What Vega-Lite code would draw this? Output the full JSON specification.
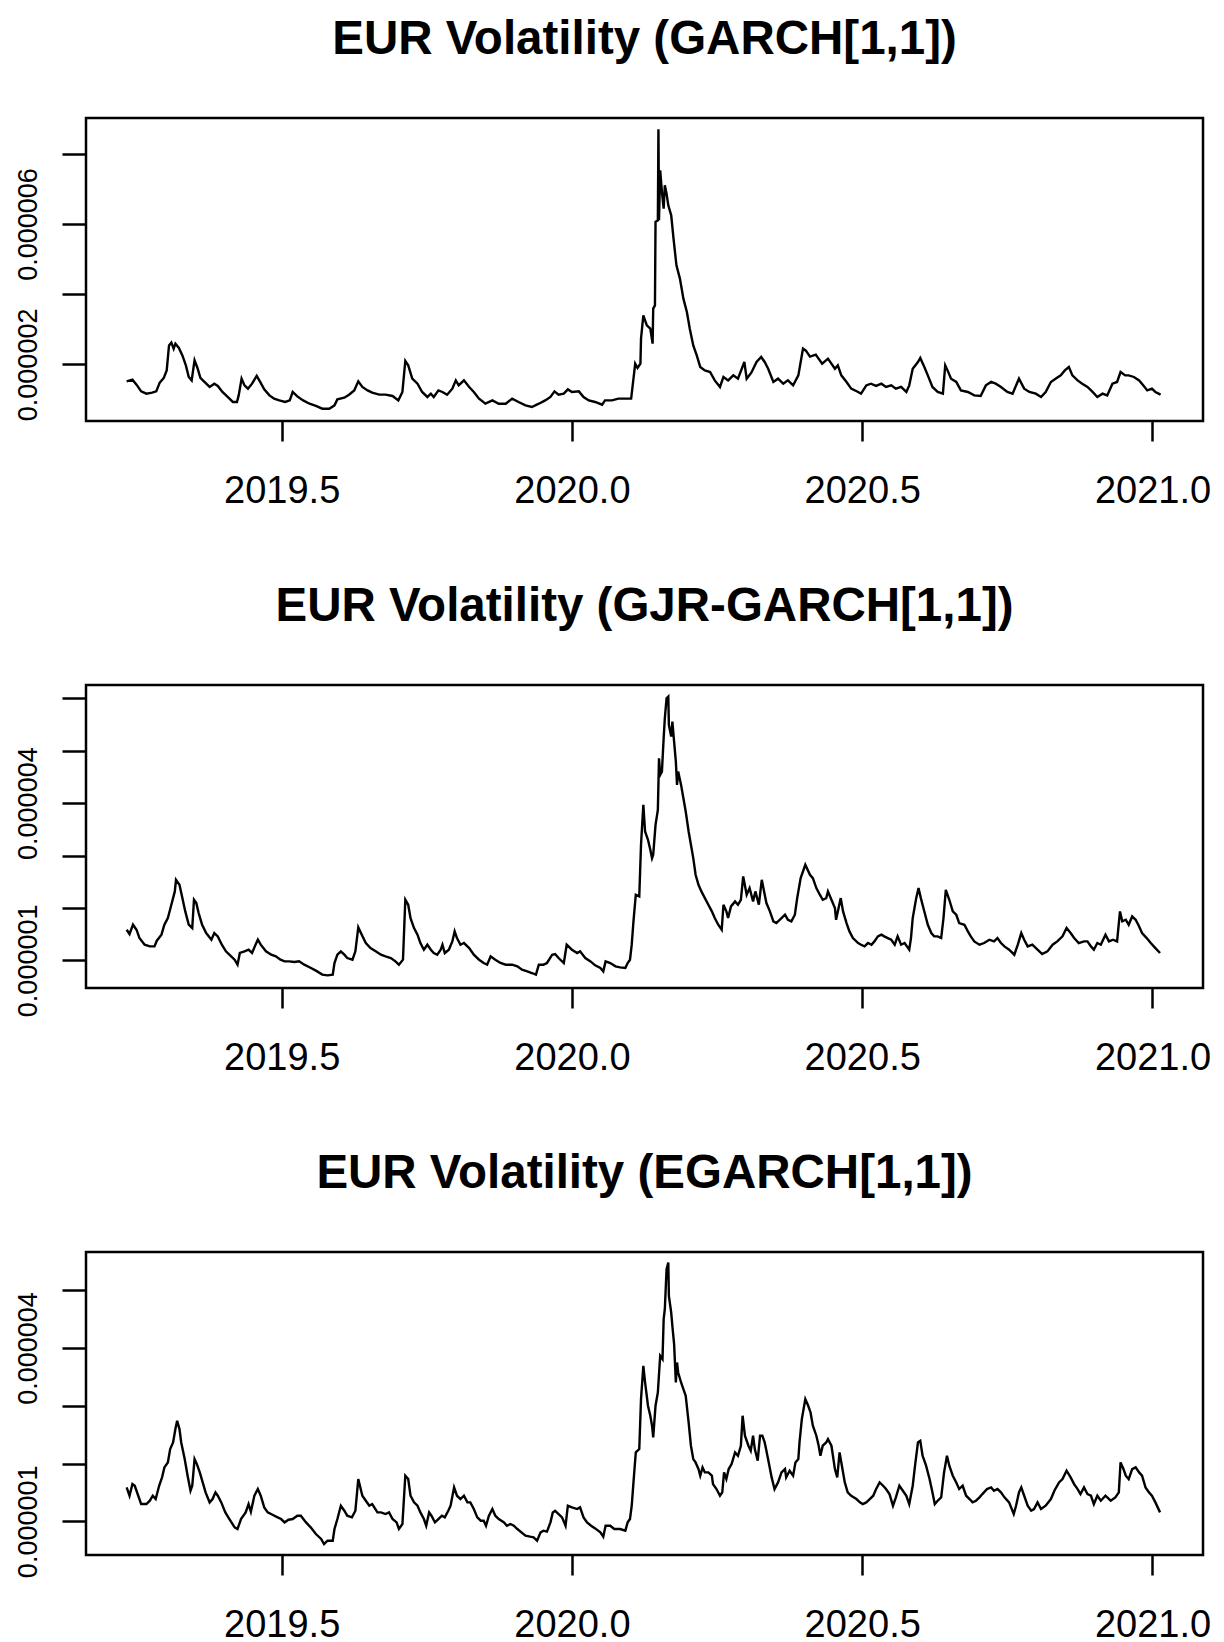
{
"$schema": "https://vega.github.io/schema/vega-lite/v6.json",
"background": "white",
"padding": {"left": 12, "top": 14, "right": 10, "bottom": 10},
"bounds": "flush",
"spacing": 264,
"config": {
  "view": {"stroke": "black", "strokeWidth": 2.5},
  "font": "Liberation Sans",
  "title": {"fontSize": 47.5, "font": "Liberation Sans", "fontWeight": "bold", "color": "black", "anchor": "middle", "frame": "group", "offset": 55},
  "axis": {"grid": false, "domain": false, "tickColor": "black", "tickWidth": 2.5, "labelColor": "black", "labelFont": "Liberation Sans", "title": null}
},
"datasets": {
"garch": [
{"t":2019.233,"v":1.516e-6},{"t":2019.243,"v":1.564e-6},{"t":2019.250,"v":1.422e-6},{"t":2019.258,"v":1.231e-6},{"t":2019.267,"v":1.165e-6},{"t":2019.277,"v":1.194e-6},{"t":2019.284,"v":1.231e-6},{"t":2019.290,"v":1.479e-6},{"t":2019.297,"v":1.613e-6},{"t":2019.302,"v":1.829e-6},{"t":2019.306,"v":2.541e-6},{"t":2019.310,"v":2.618e-6},{"t":2019.314,"v":2.447e-6},{"t":2019.317,"v":2.590e-6},{"t":2019.323,"v":2.467e-6},{"t":2019.329,"v":2.256e-6},{"t":2019.335,"v":1.972e-6},{"t":2019.340,"v":1.641e-6},{"t":2019.345,"v":1.544e-6},{"t":2019.350,"v":2.114e-6},{"t":2019.355,"v":1.897e-6},{"t":2019.360,"v":1.613e-6},{"t":2019.367,"v":1.499e-6},{"t":2019.376,"v":1.356e-6},{"t":2019.384,"v":1.450e-6},{"t":2019.390,"v":1.385e-6},{"t":2019.398,"v":1.214e-6},{"t":2019.407,"v":1.071e-6},{"t":2019.416,"v":0.929e-6},{"t":2019.423,"v":0.929e-6},{"t":2019.426,"v":1.117e-6},{"t":2019.431,"v":1.593e-6},{"t":2019.436,"v":1.402e-6},{"t":2019.442,"v":1.308e-6},{"t":2019.449,"v":1.450e-6},{"t":2019.457,"v":1.670e-6},{"t":2019.463,"v":1.499e-6},{"t":2019.470,"v":1.288e-6},{"t":2019.479,"v":1.117e-6},{"t":2019.487,"v":1.023e-6},{"t":2019.496,"v":0.974e-6},{"t":2019.506,"v":0.929e-6},{"t":2019.514,"v":0.974e-6},{"t":2019.519,"v":1.214e-6},{"t":2019.527,"v":1.088e-6},{"t":2019.537,"v":0.974e-6},{"t":2019.548,"v":0.880e-6},{"t":2019.559,"v":0.815e-6},{"t":2019.570,"v":0.738e-6},{"t":2019.582,"v":0.738e-6},{"t":2019.591,"v":0.832e-6},{"t":2019.596,"v":1.003e-6},{"t":2019.608,"v":1.051e-6},{"t":2019.616,"v":1.137e-6},{"t":2019.625,"v":1.259e-6},{"t":2019.632,"v":1.516e-6},{"t":2019.639,"v":1.356e-6},{"t":2019.648,"v":1.259e-6},{"t":2019.656,"v":1.194e-6},{"t":2019.668,"v":1.137e-6},{"t":2019.679,"v":1.137e-6},{"t":2019.691,"v":1.100e-6},{"t":2019.701,"v":0.974e-6},{"t":2019.708,"v":1.214e-6},{"t":2019.713,"v":2.097e-6},{"t":2019.718,"v":1.972e-6},{"t":2019.725,"v":1.593e-6},{"t":2019.734,"v":1.450e-6},{"t":2019.742,"v":1.214e-6},{"t":2019.751,"v":1.071e-6},{"t":2019.757,"v":1.165e-6},{"t":2019.762,"v":1.071e-6},{"t":2019.770,"v":1.259e-6},{"t":2019.777,"v":1.214e-6},{"t":2019.785,"v":1.137e-6},{"t":2019.794,"v":1.308e-6},{"t":2019.800,"v":1.544e-6},{"t":2019.805,"v":1.402e-6},{"t":2019.814,"v":1.544e-6},{"t":2019.823,"v":1.356e-6},{"t":2019.831,"v":1.214e-6},{"t":2019.840,"v":1.023e-6},{"t":2019.851,"v":0.880e-6},{"t":2019.863,"v":0.974e-6},{"t":2019.874,"v":0.880e-6},{"t":2019.886,"v":0.880e-6},{"t":2019.897,"v":1.023e-6},{"t":2019.908,"v":0.929e-6},{"t":2019.920,"v":0.832e-6},{"t":2019.931,"v":0.786e-6},{"t":2019.943,"v":0.880e-6},{"t":2019.954,"v":0.974e-6},{"t":2019.963,"v":1.071e-6},{"t":2019.970,"v":1.231e-6},{"t":2019.977,"v":1.137e-6},{"t":2019.986,"v":1.165e-6},{"t":2019.993,"v":1.288e-6},{"t":2020.000,"v":1.214e-6},{"t":2020.012,"v":1.231e-6},{"t":2020.020,"v":1.071e-6},{"t":2020.029,"v":0.974e-6},{"t":2020.040,"v":0.929e-6},{"t":2020.052,"v":0.852e-6},{"t":2020.057,"v":0.974e-6},{"t":2020.069,"v":0.974e-6},{"t":2020.080,"v":1.023e-6},{"t":2020.092,"v":1.023e-6},{"t":2020.102,"v":1.023e-6},{"t":2020.104,"v":1.308e-6},{"t":2020.109,"v":2.020e-6},{"t":2020.113,"v":1.897e-6},{"t":2020.118,"v":2.020e-6},{"t":2020.119,"v":2.732e-6},{"t":2020.123,"v":3.396e-6},{"t":2020.129,"v":3.111e-6},{"t":2020.135,"v":3.017e-6},{"t":2020.139,"v":2.590e-6},{"t":2020.140,"v":3.587e-6},{"t":2020.143,"v":3.681e-6},{"t":2020.144,"v":6.057e-6},{"t":2020.148,"v":6.103e-6},{"t":2020.149,"v":8.695e-6},{"t":2020.150,"v":6.103e-6},{"t":2020.152,"v":7.527e-6},{"t":2020.155,"v":6.912e-6},{"t":2020.158,"v":6.436e-6},{"t":2020.160,"v":7.100e-6},{"t":2020.163,"v":6.863e-6},{"t":2020.166,"v":6.530e-6},{"t":2020.171,"v":6.245e-6},{"t":2020.175,"v":5.581e-6},{"t":2020.180,"v":4.821e-6},{"t":2020.186,"v":4.442e-6},{"t":2020.192,"v":3.872e-6},{"t":2020.198,"v":3.493e-6},{"t":2020.203,"v":3.017e-6},{"t":2020.209,"v":2.541e-6},{"t":2020.215,"v":2.256e-6},{"t":2020.221,"v":1.926e-6},{"t":2020.229,"v":1.829e-6},{"t":2020.238,"v":1.783e-6},{"t":2020.246,"v":1.544e-6},{"t":2020.255,"v":1.356e-6},{"t":2020.261,"v":1.641e-6},{"t":2020.269,"v":1.544e-6},{"t":2020.278,"v":1.687e-6},{"t":2020.286,"v":1.593e-6},{"t":2020.297,"v":2.068e-6},{"t":2020.301,"v":1.593e-6},{"t":2020.309,"v":1.764e-6},{"t":2020.318,"v":2.068e-6},{"t":2020.326,"v":2.211e-6},{"t":2020.332,"v":2.068e-6},{"t":2020.338,"v":1.877e-6},{"t":2020.347,"v":1.499e-6},{"t":2020.355,"v":1.593e-6},{"t":2020.364,"v":1.450e-6},{"t":2020.372,"v":1.544e-6},{"t":2020.381,"v":1.402e-6},{"t":2020.390,"v":1.687e-6},{"t":2020.398,"v":2.447e-6},{"t":2020.403,"v":2.390e-6},{"t":2020.410,"v":2.219e-6},{"t":2020.420,"v":2.276e-6},{"t":2020.431,"v":2.020e-6},{"t":2020.441,"v":2.162e-6},{"t":2020.453,"v":1.877e-6},{"t":2020.458,"v":1.972e-6},{"t":2020.464,"v":1.687e-6},{"t":2020.473,"v":1.499e-6},{"t":2020.481,"v":1.308e-6},{"t":2020.493,"v":1.214e-6},{"t":2020.498,"v":1.165e-6},{"t":2020.507,"v":1.402e-6},{"t":2020.515,"v":1.450e-6},{"t":2020.524,"v":1.385e-6},{"t":2020.533,"v":1.450e-6},{"t":2020.541,"v":1.356e-6},{"t":2020.550,"v":1.402e-6},{"t":2020.558,"v":1.308e-6},{"t":2020.567,"v":1.356e-6},{"t":2020.576,"v":1.214e-6},{"t":2020.581,"v":1.402e-6},{"t":2020.587,"v":1.877e-6},{"t":2020.596,"v":2.068e-6},{"t":2020.600,"v":2.182e-6},{"t":2020.607,"v":1.926e-6},{"t":2020.613,"v":1.687e-6},{"t":2020.621,"v":1.356e-6},{"t":2020.630,"v":1.214e-6},{"t":2020.639,"v":1.165e-6},{"t":2020.643,"v":1.972e-6},{"t":2020.647,"v":1.829e-6},{"t":2020.653,"v":1.593e-6},{"t":2020.662,"v":1.499e-6},{"t":2020.670,"v":1.259e-6},{"t":2020.682,"v":1.214e-6},{"t":2020.693,"v":1.117e-6},{"t":2020.704,"v":1.100e-6},{"t":2020.713,"v":1.402e-6},{"t":2020.722,"v":1.499e-6},{"t":2020.730,"v":1.450e-6},{"t":2020.739,"v":1.356e-6},{"t":2020.750,"v":1.214e-6},{"t":2020.759,"v":1.165e-6},{"t":2020.770,"v":1.593e-6},{"t":2020.779,"v":1.308e-6},{"t":2020.788,"v":1.214e-6},{"t":2020.799,"v":1.165e-6},{"t":2020.808,"v":1.071e-6},{"t":2020.816,"v":1.214e-6},{"t":2020.825,"v":1.499e-6},{"t":2020.833,"v":1.593e-6},{"t":2020.842,"v":1.687e-6},{"t":2020.849,"v":1.829e-6},{"t":2020.856,"v":1.926e-6},{"t":2020.862,"v":1.687e-6},{"t":2020.871,"v":1.544e-6},{"t":2020.879,"v":1.450e-6},{"t":2020.888,"v":1.356e-6},{"t":2020.896,"v":1.231e-6},{"t":2020.905,"v":1.071e-6},{"t":2020.914,"v":1.165e-6},{"t":2020.922,"v":1.117e-6},{"t":2020.931,"v":1.450e-6},{"t":2020.939,"v":1.499e-6},{"t":2020.945,"v":1.783e-6},{"t":2020.953,"v":1.687e-6},{"t":2020.959,"v":1.687e-6},{"t":2020.968,"v":1.641e-6},{"t":2020.977,"v":1.544e-6},{"t":2020.984,"v":1.402e-6},{"t":2020.991,"v":1.259e-6},{"t":2020.999,"v":1.308e-6},{"t":2021.005,"v":1.214e-6},{"t":2021.014,"v":1.137e-6}
],
"gjr": [
{"t":2019.233,"v":1.584e-6},{"t":2019.238,"v":1.502e-6},{"t":2019.244,"v":1.680e-6},{"t":2019.250,"v":1.584e-6},{"t":2019.255,"v":1.426e-6},{"t":2019.264,"v":1.299e-6},{"t":2019.273,"v":1.267e-6},{"t":2019.281,"v":1.267e-6},{"t":2019.285,"v":1.375e-6},{"t":2019.293,"v":1.489e-6},{"t":2019.298,"v":1.680e-6},{"t":2019.304,"v":1.807e-6},{"t":2019.310,"v":2.061e-6},{"t":2019.316,"v":2.315e-6},{"t":2019.318,"v":2.537e-6},{"t":2019.324,"v":2.442e-6},{"t":2019.329,"v":2.188e-6},{"t":2019.334,"v":1.934e-6},{"t":2019.340,"v":1.680e-6},{"t":2019.346,"v":1.616e-6},{"t":2019.349,"v":2.156e-6},{"t":2019.353,"v":2.093e-6},{"t":2019.357,"v":1.902e-6},{"t":2019.363,"v":1.680e-6},{"t":2019.370,"v":1.521e-6},{"t":2019.379,"v":1.394e-6},{"t":2019.384,"v":1.521e-6},{"t":2019.390,"v":1.457e-6},{"t":2019.397,"v":1.299e-6},{"t":2019.404,"v":1.172e-6},{"t":2019.413,"v":1.076e-6},{"t":2019.419,"v":1.013e-6},{"t":2019.424,"v":0.917e-6},{"t":2019.428,"v":1.140e-6},{"t":2019.436,"v":1.172e-6},{"t":2019.443,"v":1.203e-6},{"t":2019.449,"v":1.140e-6},{"t":2019.455,"v":1.299e-6},{"t":2019.459,"v":1.394e-6},{"t":2019.464,"v":1.299e-6},{"t":2019.473,"v":1.172e-6},{"t":2019.482,"v":1.108e-6},{"t":2019.490,"v":1.076e-6},{"t":2019.498,"v":1.013e-6},{"t":2019.505,"v":0.981e-6},{"t":2019.513,"v":0.981e-6},{"t":2019.522,"v":0.968e-6},{"t":2019.530,"v":0.981e-6},{"t":2019.539,"v":0.917e-6},{"t":2019.548,"v":0.867e-6},{"t":2019.559,"v":0.803e-6},{"t":2019.570,"v":0.727e-6},{"t":2019.579,"v":0.714e-6},{"t":2019.588,"v":0.727e-6},{"t":2019.591,"v":0.949e-6},{"t":2019.596,"v":1.108e-6},{"t":2019.602,"v":1.172e-6},{"t":2019.608,"v":1.108e-6},{"t":2019.613,"v":1.044e-6},{"t":2019.622,"v":1.013e-6},{"t":2019.627,"v":1.172e-6},{"t":2019.632,"v":1.629e-6},{"t":2019.638,"v":1.489e-6},{"t":2019.645,"v":1.330e-6},{"t":2019.653,"v":1.235e-6},{"t":2019.662,"v":1.172e-6},{"t":2019.671,"v":1.108e-6},{"t":2019.679,"v":1.076e-6},{"t":2019.688,"v":1.044e-6},{"t":2019.696,"v":0.981e-6},{"t":2019.702,"v":0.917e-6},{"t":2019.709,"v":1.013e-6},{"t":2019.713,"v":2.156e-6},{"t":2019.718,"v":2.060e-6},{"t":2019.722,"v":1.806e-6},{"t":2019.728,"v":1.616e-6},{"t":2019.734,"v":1.489e-6},{"t":2019.739,"v":1.330e-6},{"t":2019.745,"v":1.203e-6},{"t":2019.751,"v":1.298e-6},{"t":2019.757,"v":1.203e-6},{"t":2019.762,"v":1.139e-6},{"t":2019.768,"v":1.107e-6},{"t":2019.774,"v":1.203e-6},{"t":2019.777,"v":1.298e-6},{"t":2019.781,"v":1.139e-6},{"t":2019.788,"v":1.203e-6},{"t":2019.794,"v":1.361e-6},{"t":2019.798,"v":1.552e-6},{"t":2019.802,"v":1.425e-6},{"t":2019.808,"v":1.298e-6},{"t":2019.814,"v":1.330e-6},{"t":2019.823,"v":1.234e-6},{"t":2019.831,"v":1.107e-6},{"t":2019.840,"v":1.012e-6},{"t":2019.848,"v":0.949e-6},{"t":2019.854,"v":0.917e-6},{"t":2019.860,"v":1.076e-6},{"t":2019.868,"v":1.012e-6},{"t":2019.877,"v":0.949e-6},{"t":2019.886,"v":0.917e-6},{"t":2019.897,"v":0.917e-6},{"t":2019.906,"v":0.885e-6},{"t":2019.914,"v":0.821e-6},{"t":2019.923,"v":0.790e-6},{"t":2019.931,"v":0.758e-6},{"t":2019.938,"v":0.726e-6},{"t":2019.943,"v":0.917e-6},{"t":2019.951,"v":0.917e-6},{"t":2019.957,"v":0.949e-6},{"t":2019.966,"v":1.107e-6},{"t":2019.971,"v":1.120e-6},{"t":2019.977,"v":1.044e-6},{"t":2019.986,"v":0.949e-6},{"t":2019.991,"v":1.298e-6},{"t":2020.000,"v":1.203e-6},{"t":2020.009,"v":1.139e-6},{"t":2020.014,"v":1.171e-6},{"t":2020.023,"v":1.044e-6},{"t":2020.032,"v":0.980e-6},{"t":2020.040,"v":0.904e-6},{"t":2020.049,"v":0.853e-6},{"t":2020.054,"v":0.790e-6},{"t":2020.058,"v":0.980e-6},{"t":2020.066,"v":0.949e-6},{"t":2020.075,"v":0.885e-6},{"t":2020.083,"v":0.866e-6},{"t":2020.092,"v":0.853e-6},{"t":2020.096,"v":0.949e-6},{"t":2020.100,"v":1.012e-6},{"t":2020.103,"v":1.299e-6},{"t":2020.106,"v":1.743e-6},{"t":2020.110,"v":2.252e-6},{"t":2020.116,"v":2.220e-6},{"t":2020.119,"v":3.205e-6},{"t":2020.123,"v":3.967e-6},{"t":2020.126,"v":3.459e-6},{"t":2020.131,"v":3.300e-6},{"t":2020.135,"v":3.109e-6},{"t":2020.138,"v":2.950e-6},{"t":2020.140,"v":3.014e-6},{"t":2020.144,"v":3.586e-6},{"t":2020.148,"v":3.872e-6},{"t":2020.150,"v":4.856e-6},{"t":2020.152,"v":4.539e-6},{"t":2020.155,"v":4.602e-6},{"t":2020.158,"v":5.238e-6},{"t":2020.160,"v":5.619e-6},{"t":2020.163,"v":6.000e-6},{"t":2020.166,"v":6.032e-6},{"t":2020.167,"v":5.492e-6},{"t":2020.171,"v":5.269e-6},{"t":2020.173,"v":5.555e-6},{"t":2020.176,"v":5.174e-6},{"t":2020.179,"v":4.793e-6},{"t":2020.181,"v":4.348e-6},{"t":2020.183,"v":4.602e-6},{"t":2020.188,"v":4.348e-6},{"t":2020.192,"v":4.094e-6},{"t":2020.196,"v":3.840e-6},{"t":2020.201,"v":3.459e-6},{"t":2020.205,"v":3.205e-6},{"t":2020.209,"v":2.950e-6},{"t":2020.213,"v":2.633e-6},{"t":2020.218,"v":2.442e-6},{"t":2020.223,"v":2.315e-6},{"t":2020.229,"v":2.188e-6},{"t":2020.235,"v":2.061e-6},{"t":2020.241,"v":1.934e-6},{"t":2020.246,"v":1.807e-6},{"t":2020.252,"v":1.680e-6},{"t":2020.258,"v":1.584e-6},{"t":2020.261,"v":2.061e-6},{"t":2020.266,"v":1.934e-6},{"t":2020.269,"v":1.807e-6},{"t":2020.274,"v":2.029e-6},{"t":2020.281,"v":2.125e-6},{"t":2020.286,"v":2.061e-6},{"t":2020.291,"v":2.156e-6},{"t":2020.295,"v":2.601e-6},{"t":2020.301,"v":2.252e-6},{"t":2020.306,"v":2.379e-6},{"t":2020.312,"v":2.125e-6},{"t":2020.316,"v":2.315e-6},{"t":2020.322,"v":2.061e-6},{"t":2020.327,"v":2.537e-6},{"t":2020.331,"v":2.315e-6},{"t":2020.335,"v":2.093e-6},{"t":2020.341,"v":1.934e-6},{"t":2020.347,"v":1.743e-6},{"t":2020.352,"v":1.712e-6},{"t":2020.361,"v":1.807e-6},{"t":2020.367,"v":1.870e-6},{"t":2020.372,"v":1.775e-6},{"t":2020.378,"v":1.743e-6},{"t":2020.384,"v":1.870e-6},{"t":2020.388,"v":2.188e-6},{"t":2020.394,"v":2.569e-6},{"t":2020.402,"v":2.823e-6},{"t":2020.410,"v":2.633e-6},{"t":2020.415,"v":2.569e-6},{"t":2020.421,"v":2.379e-6},{"t":2020.427,"v":2.252e-6},{"t":2020.432,"v":2.156e-6},{"t":2020.438,"v":2.188e-6},{"t":2020.441,"v":2.314e-6},{"t":2020.447,"v":2.156e-6},{"t":2020.453,"v":1.997e-6},{"t":2020.455,"v":1.774e-6},{"t":2020.458,"v":1.933e-6},{"t":2020.463,"v":2.187e-6},{"t":2020.467,"v":1.933e-6},{"t":2020.473,"v":1.711e-6},{"t":2020.478,"v":1.552e-6},{"t":2020.484,"v":1.425e-6},{"t":2020.493,"v":1.330e-6},{"t":2020.498,"v":1.298e-6},{"t":2020.504,"v":1.266e-6},{"t":2020.510,"v":1.330e-6},{"t":2020.516,"v":1.298e-6},{"t":2020.521,"v":1.361e-6},{"t":2020.527,"v":1.457e-6},{"t":2020.533,"v":1.489e-6},{"t":2020.538,"v":1.457e-6},{"t":2020.544,"v":1.425e-6},{"t":2020.550,"v":1.393e-6},{"t":2020.556,"v":1.298e-6},{"t":2020.561,"v":1.457e-6},{"t":2020.567,"v":1.298e-6},{"t":2020.573,"v":1.330e-6},{"t":2020.581,"v":1.203e-6},{"t":2020.584,"v":1.425e-6},{"t":2020.587,"v":1.806e-6},{"t":2020.593,"v":2.187e-6},{"t":2020.597,"v":2.378e-6},{"t":2020.601,"v":2.187e-6},{"t":2020.607,"v":1.933e-6},{"t":2020.613,"v":1.679e-6},{"t":2020.619,"v":1.520e-6},{"t":2020.624,"v":1.457e-6},{"t":2020.630,"v":1.457e-6},{"t":2020.636,"v":1.425e-6},{"t":2020.640,"v":1.806e-6},{"t":2020.644,"v":2.346e-6},{"t":2020.650,"v":2.156e-6},{"t":2020.656,"v":1.933e-6},{"t":2020.662,"v":1.870e-6},{"t":2020.667,"v":1.711e-6},{"t":2020.676,"v":1.679e-6},{"t":2020.682,"v":1.552e-6},{"t":2020.687,"v":1.457e-6},{"t":2020.693,"v":1.361e-6},{"t":2020.702,"v":1.298e-6},{"t":2020.710,"v":1.330e-6},{"t":2020.719,"v":1.393e-6},{"t":2020.727,"v":1.361e-6},{"t":2020.733,"v":1.425e-6},{"t":2020.739,"v":1.330e-6},{"t":2020.745,"v":1.266e-6},{"t":2020.753,"v":1.203e-6},{"t":2020.762,"v":1.107e-6},{"t":2020.768,"v":1.298e-6},{"t":2020.774,"v":1.520e-6},{"t":2020.779,"v":1.393e-6},{"t":2020.785,"v":1.266e-6},{"t":2020.793,"v":1.298e-6},{"t":2020.802,"v":1.203e-6},{"t":2020.810,"v":1.120e-6},{"t":2020.819,"v":1.171e-6},{"t":2020.828,"v":1.298e-6},{"t":2020.836,"v":1.361e-6},{"t":2020.845,"v":1.457e-6},{"t":2020.852,"v":1.616e-6},{"t":2020.859,"v":1.520e-6},{"t":2020.865,"v":1.425e-6},{"t":2020.873,"v":1.330e-6},{"t":2020.882,"v":1.361e-6},{"t":2020.888,"v":1.361e-6},{"t":2020.894,"v":1.266e-6},{"t":2020.899,"v":1.203e-6},{"t":2020.905,"v":1.330e-6},{"t":2020.911,"v":1.298e-6},{"t":2020.919,"v":1.489e-6},{"t":2020.925,"v":1.361e-6},{"t":2020.932,"v":1.393e-6},{"t":2020.939,"v":1.361e-6},{"t":2020.944,"v":1.933e-6},{"t":2020.948,"v":1.743e-6},{"t":2020.954,"v":1.774e-6},{"t":2020.959,"v":1.679e-6},{"t":2020.965,"v":1.838e-6},{"t":2020.971,"v":1.774e-6},{"t":2020.977,"v":1.647e-6},{"t":2020.982,"v":1.520e-6},{"t":2020.990,"v":1.425e-6},{"t":2020.997,"v":1.330e-6},{"t":2021.005,"v":1.234e-6},{"t":2021.013,"v":1.139e-6}
],
"egarch": [
{"t":2019.233,"v":1.588e-6},{"t":2019.238,"v":1.443e-6},{"t":2019.243,"v":1.645e-6},{"t":2019.247,"v":1.616e-6},{"t":2019.253,"v":1.443e-6},{"t":2019.258,"v":1.299e-6},{"t":2019.267,"v":1.299e-6},{"t":2019.273,"v":1.357e-6},{"t":2019.278,"v":1.443e-6},{"t":2019.283,"v":1.386e-6},{"t":2019.289,"v":1.616e-6},{"t":2019.294,"v":1.761e-6},{"t":2019.298,"v":1.934e-6},{"t":2019.304,"v":2.020e-6},{"t":2019.308,"v":2.251e-6},{"t":2019.313,"v":2.366e-6},{"t":2019.317,"v":2.597e-6},{"t":2019.320,"v":2.741e-6},{"t":2019.324,"v":2.597e-6},{"t":2019.327,"v":2.366e-6},{"t":2019.333,"v":2.078e-6},{"t":2019.338,"v":1.790e-6},{"t":2019.343,"v":1.530e-6},{"t":2019.346,"v":1.616e-6},{"t":2019.350,"v":2.078e-6},{"t":2019.354,"v":1.991e-6},{"t":2019.359,"v":1.847e-6},{"t":2019.364,"v":1.674e-6},{"t":2019.369,"v":1.501e-6},{"t":2019.376,"v":1.328e-6},{"t":2019.381,"v":1.386e-6},{"t":2019.386,"v":1.501e-6},{"t":2019.390,"v":1.443e-6},{"t":2019.396,"v":1.328e-6},{"t":2019.403,"v":1.155e-6},{"t":2019.410,"v":1.040e-6},{"t":2019.419,"v":0.896e-6},{"t":2019.424,"v":0.867e-6},{"t":2019.430,"v":1.040e-6},{"t":2019.438,"v":1.155e-6},{"t":2019.443,"v":1.299e-6},{"t":2019.447,"v":1.167e-6},{"t":2019.453,"v":1.443e-6},{"t":2019.459,"v":1.559e-6},{"t":2019.464,"v":1.443e-6},{"t":2019.470,"v":1.242e-6},{"t":2019.476,"v":1.155e-6},{"t":2019.485,"v":1.109e-6},{"t":2019.493,"v":1.069e-6},{"t":2019.499,"v":1.040e-6},{"t":2019.505,"v":0.982e-6},{"t":2019.512,"v":1.028e-6},{"t":2019.519,"v":1.040e-6},{"t":2019.527,"v":1.097e-6},{"t":2019.533,"v":1.097e-6},{"t":2019.542,"v":0.982e-6},{"t":2019.550,"v":0.896e-6},{"t":2019.559,"v":0.780e-6},{"t":2019.568,"v":0.694e-6},{"t":2019.573,"v":0.607e-6},{"t":2019.579,"v":0.665e-6},{"t":2019.588,"v":0.665e-6},{"t":2019.591,"v":0.867e-6},{"t":2019.596,"v":1.040e-6},{"t":2019.602,"v":1.270e-6},{"t":2019.608,"v":1.184e-6},{"t":2019.613,"v":1.097e-6},{"t":2019.621,"v":1.069e-6},{"t":2019.627,"v":1.184e-6},{"t":2019.632,"v":1.732e-6},{"t":2019.639,"v":1.443e-6},{"t":2019.645,"v":1.357e-6},{"t":2019.651,"v":1.270e-6},{"t":2019.656,"v":1.299e-6},{"t":2019.665,"v":1.155e-6},{"t":2019.671,"v":1.155e-6},{"t":2019.679,"v":1.126e-6},{"t":2019.685,"v":1.155e-6},{"t":2019.691,"v":1.040e-6},{"t":2019.698,"v":0.982e-6},{"t":2019.702,"v":0.867e-6},{"t":2019.708,"v":0.953e-6},{"t":2019.713,"v":1.790e-6},{"t":2019.718,"v":1.732e-6},{"t":2019.722,"v":1.443e-6},{"t":2019.728,"v":1.328e-6},{"t":2019.734,"v":1.270e-6},{"t":2019.739,"v":1.155e-6},{"t":2019.745,"v":1.040e-6},{"t":2019.749,"v":0.924e-6},{"t":2019.754,"v":1.155e-6},{"t":2019.758,"v":1.097e-6},{"t":2019.764,"v":0.982e-6},{"t":2019.770,"v":1.040e-6},{"t":2019.776,"v":1.097e-6},{"t":2019.781,"v":1.069e-6},{"t":2019.787,"v":1.184e-6},{"t":2019.791,"v":1.270e-6},{"t":2019.797,"v":1.588e-6},{"t":2019.802,"v":1.443e-6},{"t":2019.808,"v":1.386e-6},{"t":2019.814,"v":1.443e-6},{"t":2019.820,"v":1.328e-6},{"t":2019.825,"v":1.328e-6},{"t":2019.831,"v":1.213e-6},{"t":2019.837,"v":1.069e-6},{"t":2019.843,"v":1.011e-6},{"t":2019.848,"v":1.011e-6},{"t":2019.852,"v":0.924e-6},{"t":2019.857,"v":1.097e-6},{"t":2019.863,"v":1.213e-6},{"t":2019.868,"v":1.097e-6},{"t":2019.874,"v":1.040e-6},{"t":2019.883,"v":0.982e-6},{"t":2019.888,"v":0.924e-6},{"t":2019.894,"v":0.953e-6},{"t":2019.900,"v":0.924e-6},{"t":2019.906,"v":0.867e-6},{"t":2019.913,"v":0.809e-6},{"t":2019.920,"v":0.751e-6},{"t":2019.928,"v":0.734e-6},{"t":2019.934,"v":0.723e-6},{"t":2019.940,"v":0.665e-6},{"t":2019.946,"v":0.809e-6},{"t":2019.951,"v":0.838e-6},{"t":2019.957,"v":0.821e-6},{"t":2019.963,"v":0.982e-6},{"t":2019.967,"v":1.155e-6},{"t":2019.971,"v":1.184e-6},{"t":2019.977,"v":1.126e-6},{"t":2019.983,"v":1.069e-6},{"t":2019.989,"v":0.924e-6},{"t":2019.993,"v":1.270e-6},{"t":2020.000,"v":1.242e-6},{"t":2020.009,"v":1.213e-6},{"t":2020.014,"v":1.242e-6},{"t":2020.020,"v":1.069e-6},{"t":2020.026,"v":0.982e-6},{"t":2020.033,"v":0.924e-6},{"t":2020.040,"v":0.878e-6},{"t":2020.049,"v":0.809e-6},{"t":2020.054,"v":0.734e-6},{"t":2020.058,"v":0.924e-6},{"t":2020.066,"v":0.924e-6},{"t":2020.073,"v":0.867e-6},{"t":2020.083,"v":0.867e-6},{"t":2020.092,"v":0.838e-6},{"t":2020.096,"v":0.982e-6},{"t":2020.100,"v":1.040e-6},{"t":2020.103,"v":1.270e-6},{"t":2020.106,"v":1.674e-6},{"t":2020.110,"v":2.193e-6},{"t":2020.116,"v":2.251e-6},{"t":2020.119,"v":3.116e-6},{"t":2020.123,"v":3.693e-6},{"t":2020.126,"v":3.404e-6},{"t":2020.131,"v":3.001e-6},{"t":2020.135,"v":2.828e-6},{"t":2020.138,"v":2.655e-6},{"t":2020.140,"v":2.453e-6},{"t":2020.144,"v":3.001e-6},{"t":2020.148,"v":3.231e-6},{"t":2020.152,"v":3.866e-6},{"t":2020.156,"v":3.808e-6},{"t":2020.158,"v":4.500e-6},{"t":2020.160,"v":4.673e-6},{"t":2020.163,"v":5.365e-6},{"t":2020.166,"v":5.480e-6},{"t":2020.167,"v":4.904e-6},{"t":2020.171,"v":4.615e-6},{"t":2020.173,"v":4.385e-6},{"t":2020.176,"v":4.067e-6},{"t":2020.179,"v":3.404e-6},{"t":2020.181,"v":3.750e-6},{"t":2020.183,"v":3.577e-6},{"t":2020.188,"v":3.404e-6},{"t":2020.192,"v":3.289e-6},{"t":2020.196,"v":3.174e-6},{"t":2020.201,"v":2.712e-6},{"t":2020.205,"v":2.309e-6},{"t":2020.209,"v":2.078e-6},{"t":2020.213,"v":2.020e-6},{"t":2020.218,"v":1.905e-6},{"t":2020.221,"v":1.790e-6},{"t":2020.225,"v":1.934e-6},{"t":2020.229,"v":1.847e-6},{"t":2020.235,"v":1.847e-6},{"t":2020.241,"v":1.790e-6},{"t":2020.243,"v":1.645e-6},{"t":2020.249,"v":1.559e-6},{"t":2020.255,"v":1.443e-6},{"t":2020.259,"v":1.501e-6},{"t":2020.262,"v":1.847e-6},{"t":2020.266,"v":1.732e-6},{"t":2020.270,"v":1.905e-6},{"t":2020.275,"v":1.991e-6},{"t":2020.281,"v":2.193e-6},{"t":2020.286,"v":2.136e-6},{"t":2020.291,"v":2.309e-6},{"t":2020.294,"v":2.828e-6},{"t":2020.298,"v":2.482e-6},{"t":2020.304,"v":2.309e-6},{"t":2020.308,"v":2.222e-6},{"t":2020.312,"v":2.482e-6},{"t":2020.315,"v":2.251e-6},{"t":2020.320,"v":2.049e-6},{"t":2020.324,"v":2.482e-6},{"t":2020.328,"v":2.482e-6},{"t":2020.332,"v":2.366e-6},{"t":2020.335,"v":2.222e-6},{"t":2020.339,"v":2.020e-6},{"t":2020.344,"v":1.761e-6},{"t":2020.349,"v":1.559e-6},{"t":2020.355,"v":1.674e-6},{"t":2020.361,"v":1.847e-6},{"t":2020.367,"v":1.905e-6},{"t":2020.369,"v":1.761e-6},{"t":2020.375,"v":1.876e-6},{"t":2020.381,"v":1.790e-6},{"t":2020.385,"v":2.020e-6},{"t":2020.390,"v":2.078e-6},{"t":2020.392,"v":2.366e-6},{"t":2020.396,"v":2.770e-6},{"t":2020.402,"v":3.116e-6},{"t":2020.407,"v":3.001e-6},{"t":2020.411,"v":2.885e-6},{"t":2020.415,"v":2.655e-6},{"t":2020.421,"v":2.482e-6},{"t":2020.425,"v":2.309e-6},{"t":2020.428,"v":2.136e-6},{"t":2020.432,"v":2.309e-6},{"t":2020.438,"v":2.366e-6},{"t":2020.441,"v":2.424e-6},{"t":2020.447,"v":2.309e-6},{"t":2020.453,"v":1.905e-6},{"t":2020.457,"v":1.761e-6},{"t":2020.461,"v":2.193e-6},{"t":2020.465,"v":1.963e-6},{"t":2020.470,"v":1.674e-6},{"t":2020.475,"v":1.501e-6},{"t":2020.481,"v":1.443e-6},{"t":2020.490,"v":1.386e-6},{"t":2020.496,"v":1.328e-6},{"t":2020.501,"v":1.299e-6},{"t":2020.507,"v":1.328e-6},{"t":2020.513,"v":1.386e-6},{"t":2020.519,"v":1.443e-6},{"t":2020.524,"v":1.559e-6},{"t":2020.530,"v":1.674e-6},{"t":2020.536,"v":1.616e-6},{"t":2020.541,"v":1.559e-6},{"t":2020.547,"v":1.472e-6},{"t":2020.553,"v":1.270e-6},{"t":2020.558,"v":1.415e-6},{"t":2020.564,"v":1.616e-6},{"t":2020.570,"v":1.530e-6},{"t":2020.576,"v":1.443e-6},{"t":2020.581,"v":1.299e-6},{"t":2020.587,"v":1.616e-6},{"t":2020.591,"v":1.963e-6},{"t":2020.596,"v":2.366e-6},{"t":2020.600,"v":2.395e-6},{"t":2020.604,"v":2.136e-6},{"t":2020.610,"v":1.963e-6},{"t":2020.616,"v":1.732e-6},{"t":2020.621,"v":1.501e-6},{"t":2020.625,"v":1.299e-6},{"t":2020.630,"v":1.357e-6},{"t":2020.636,"v":1.415e-6},{"t":2020.641,"v":1.847e-6},{"t":2020.646,"v":2.136e-6},{"t":2020.650,"v":1.963e-6},{"t":2020.656,"v":1.790e-6},{"t":2020.662,"v":1.674e-6},{"t":2020.667,"v":1.559e-6},{"t":2020.673,"v":1.616e-6},{"t":2020.679,"v":1.443e-6},{"t":2020.685,"v":1.386e-6},{"t":2020.690,"v":1.328e-6},{"t":2020.696,"v":1.357e-6},{"t":2020.702,"v":1.415e-6},{"t":2020.707,"v":1.472e-6},{"t":2020.715,"v":1.559e-6},{"t":2020.722,"v":1.588e-6},{"t":2020.727,"v":1.530e-6},{"t":2020.733,"v":1.559e-6},{"t":2020.739,"v":1.501e-6},{"t":2020.745,"v":1.415e-6},{"t":2020.753,"v":1.328e-6},{"t":2020.761,"v":1.126e-6},{"t":2020.765,"v":1.270e-6},{"t":2020.770,"v":1.501e-6},{"t":2020.774,"v":1.588e-6},{"t":2020.779,"v":1.443e-6},{"t":2020.785,"v":1.270e-6},{"t":2020.791,"v":1.184e-6},{"t":2020.796,"v":1.213e-6},{"t":2020.802,"v":1.328e-6},{"t":2020.808,"v":1.213e-6},{"t":2020.816,"v":1.270e-6},{"t":2020.825,"v":1.386e-6},{"t":2020.831,"v":1.530e-6},{"t":2020.839,"v":1.674e-6},{"t":2020.845,"v":1.732e-6},{"t":2020.852,"v":1.876e-6},{"t":2020.859,"v":1.761e-6},{"t":2020.865,"v":1.645e-6},{"t":2020.871,"v":1.559e-6},{"t":2020.876,"v":1.472e-6},{"t":2020.882,"v":1.588e-6},{"t":2020.888,"v":1.472e-6},{"t":2020.894,"v":1.443e-6},{"t":2020.899,"v":1.299e-6},{"t":2020.905,"v":1.443e-6},{"t":2020.911,"v":1.357e-6},{"t":2020.919,"v":1.443e-6},{"t":2020.928,"v":1.357e-6},{"t":2020.936,"v":1.415e-6},{"t":2020.942,"v":1.501e-6},{"t":2020.945,"v":2.020e-6},{"t":2020.950,"v":1.905e-6},{"t":2020.954,"v":1.790e-6},{"t":2020.959,"v":1.732e-6},{"t":2020.965,"v":1.905e-6},{"t":2020.971,"v":1.934e-6},{"t":2020.977,"v":1.847e-6},{"t":2020.982,"v":1.790e-6},{"t":2020.988,"v":1.588e-6},{"t":2020.994,"v":1.501e-6},{"t":2020.999,"v":1.443e-6},{"t":2021.005,"v":1.328e-6},{"t":2021.013,"v":1.155e-6}
]
},
"vconcat": [
{
 "width": 1117, "height": 303,
 "title": "EUR Volatility (GARCH[1,1])",
 "data": {"name": "garch"},
 "mark": {"type": "line", "color": "black", "strokeWidth": 2.4},
 "encoding": {
  "x": {"field": "t", "type": "quantitative", "scale": {"domain": [2019.163, 2021.087], "nice": false, "zero": false},
        "axis": {"title": null, "values": [2019.5, 2020, 2020.5, 2021], "format": ".1f", "labelFontSize": 38, "tickSize": 20, "labelPadding": 31, "labelBaseline": "top", "labelFlush": false, "labelOverlap": false}},
  "y": {"field": "v", "type": "quantitative", "scale": {"domain": [3.87e-7, 9.017e-6], "nice": false, "zero": false},
        "axis": {"title": null, "values": [2e-6, 4e-6, 6e-6, 8e-6], "format": ".6f", "labelExpr": "abs(datum.value - 0.000002) < 1e-9 || abs(datum.value - 0.000006) < 1e-9 ? datum.label : ''", "labelAngle": 270, "labelAlign": "center", "labelBaseline": "alphabetic", "labelFontSize": 27, "tickSize": 24, "labelPadding": 26, "labelFlush": false, "labelOverlap": false}}
 }
},
{
 "width": 1117, "height": 303,
 "title": "EUR Volatility (GJR-GARCH[1,1])",
 "data": {"name": "gjr"},
 "mark": {"type": "line", "color": "black", "strokeWidth": 2.4},
 "encoding": {
  "x": {"field": "t", "type": "quantitative", "scale": {"domain": [2019.163, 2021.087], "nice": false, "zero": false},
        "axis": {"title": null, "values": [2019.5, 2020, 2020.5, 2021], "format": ".1f", "labelFontSize": 38, "tickSize": 20, "labelPadding": 31, "labelBaseline": "top", "labelFlush": false, "labelOverlap": false}},
  "y": {"field": "v", "type": "quantitative", "scale": {"domain": [4.72e-7, 6.254e-6], "nice": false, "zero": false},
        "axis": {"title": null, "values": [1e-6, 2e-6, 3e-6, 4e-6, 5e-6, 6e-6], "format": ".6f", "labelExpr": "abs(datum.value - 0.000001) < 1e-9 || abs(datum.value - 0.000004) < 1e-9 ? datum.label : ''", "labelAngle": 270, "labelAlign": "center", "labelBaseline": "alphabetic", "labelFontSize": 27, "tickSize": 24, "labelPadding": 26, "labelFlush": false, "labelOverlap": false}}
 }
},
{
 "width": 1117, "height": 303,
 "title": "EUR Volatility (EGARCH[1,1])",
 "data": {"name": "egarch"},
 "mark": {"type": "line", "color": "black", "strokeWidth": 2.4},
 "encoding": {
  "x": {"field": "t", "type": "quantitative", "scale": {"domain": [2019.163, 2021.087], "nice": false, "zero": false},
        "axis": {"title": null, "values": [2019.5, 2020, 2020.5, 2021], "format": ".1f", "labelFontSize": 38, "tickSize": 20, "labelPadding": 31, "labelBaseline": "top", "labelFlush": false, "labelOverlap": false}},
  "y": {"field": "v", "type": "quantitative", "scale": {"domain": [4.17e-7, 5.663e-6], "nice": false, "zero": false},
        "axis": {"title": null, "values": [1e-6, 2e-6, 3e-6, 4e-6, 5e-6], "format": ".6f", "labelExpr": "abs(datum.value - 0.000001) < 1e-9 || abs(datum.value - 0.000004) < 1e-9 ? datum.label : ''", "labelAngle": 270, "labelAlign": "center", "labelBaseline": "alphabetic", "labelFontSize": 27, "tickSize": 24, "labelPadding": 26, "labelFlush": false, "labelOverlap": false}}
 }
}
]
}
